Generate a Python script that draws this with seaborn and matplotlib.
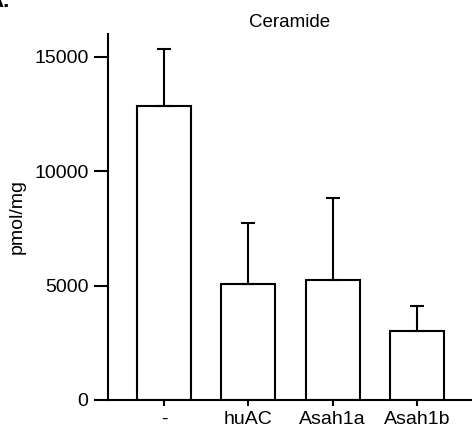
import pandas as pd
import matplotlib
matplotlib.use("Agg")
import matplotlib.pyplot as plt
import seaborn as sns

groups = ["-", "huAC", "Asah1a", "Asah1b"]
means = [12850, 5060, 5230, 3020]
sds = [2500, 2670, 3620, 1100]

df = pd.DataFrame({"group": groups, "mean": means, "sd": sds})

sns.set_style("ticks")
plt.rcParams["font.family"] = ["Liberation Sans", "DejaVu Sans"]
plt.rcParams["text.color"] = "black"
plt.rcParams["axes.labelcolor"] = "black"
plt.rcParams["xtick.color"] = "black"
plt.rcParams["ytick.color"] = "black"

fig = plt.figure(figsize=(4.72, 4.41), dpi=100)
ax = fig.add_axes([108 / 472, 41 / 441, 364 / 472, 366 / 441])

sns.barplot(data=df, x="group", y="mean", color="white", edgecolor="black",
            linewidth=1.5, width=0.64, errorbar=None, ax=ax)

# upper error bars only
ax.errorbar(range(len(groups)), df["mean"], yerr=[[0] * len(sds), df["sd"]],
            fmt="none", ecolor="black", elinewidth=1.5, capsize=4.7,
            capthick=1.5, zorder=1)

ax.set_xlim(-0.664, 3.652)
ax.set_ylim(0, 16000)
ax.set_yticks([0, 5000, 10000, 15000])
ax.set_xlabel("")
ax.set_ylabel("pmol/mg", fontsize=14, labelpad=6, color="black")
ax.set_title("Ceramide", fontsize=13.5, pad=5, color="black")

ax.tick_params(axis="y", length=10, width=1.5, pad=4, labelsize=14,
               color="black", labelcolor="black")
ax.tick_params(axis="x", length=4, width=1.5, pad=4, labelsize=14,
               color="black", labelcolor="black")
for s in ["left", "bottom"]:
    ax.spines[s].set_linewidth(1.5)
    ax.spines[s].set_color("black")
sns.despine(ax=ax)

fig.text(10 / 472, 1 - 7 / 441, "A.", ha="right", va="baseline",
         fontsize=16, fontweight="bold", color="black")

fig.savefig("out.png", dpi=100)
